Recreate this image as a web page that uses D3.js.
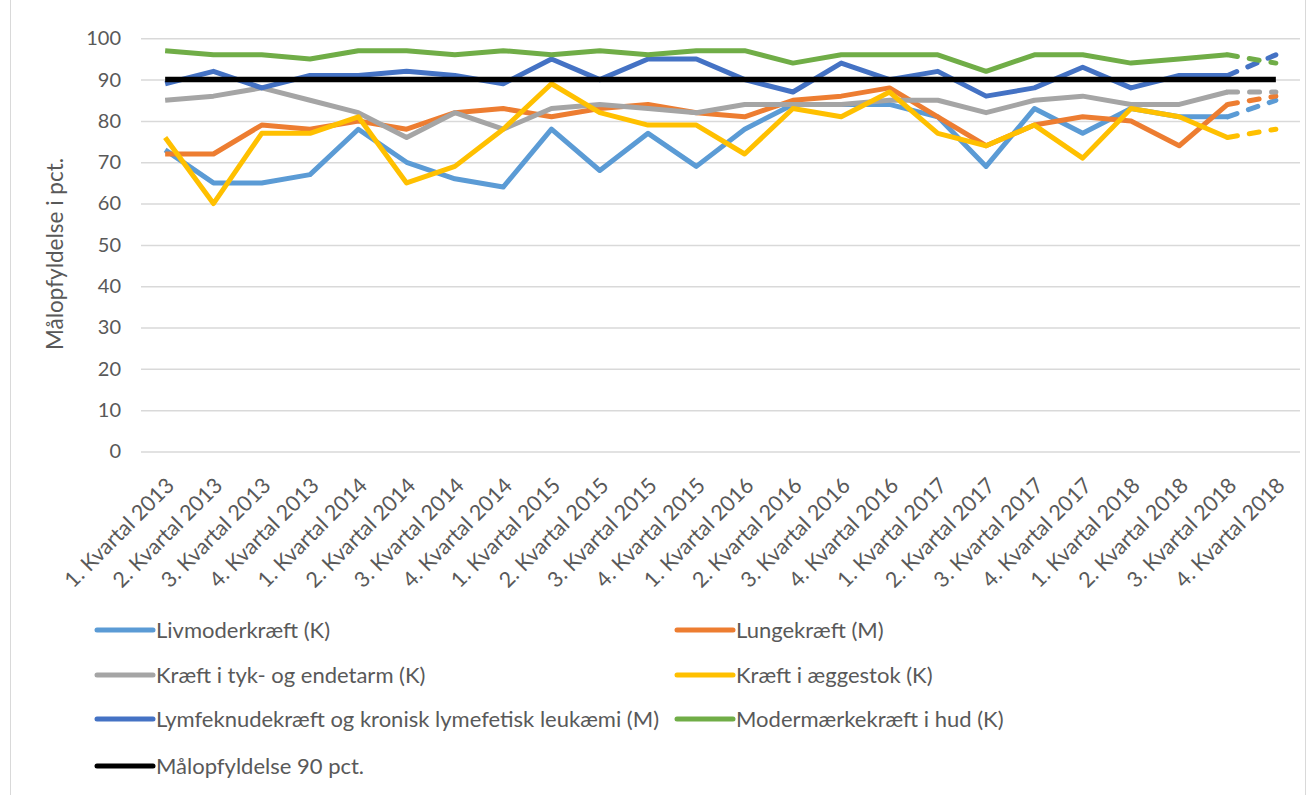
<!DOCTYPE html>
<html>
<head>
<meta charset="utf-8">
<script src="https://cdn.jsdelivr.net/npm/d3@7"></script>
<style>
  body { margin: 0; background: #fff; }
  text { font-family: Lato, "Liberation Sans", sans-serif; fill: #595959; }
</style>
</head>
<body>
<div id="chart"></div>
<script>
// categories on the x axis
var quarters = [
  "1. Kvartal 2013", "2. Kvartal 2013", "3. Kvartal 2013", "4. Kvartal 2013",
  "1. Kvartal 2014", "2. Kvartal 2014", "3. Kvartal 2014", "4. Kvartal 2014",
  "1. Kvartal 2015", "2. Kvartal 2015", "3. Kvartal 2015", "4. Kvartal 2015",
  "1. Kvartal 2016", "2. Kvartal 2016", "3. Kvartal 2016", "4. Kvartal 2016",
  "1. Kvartal 2017", "2. Kvartal 2017", "3. Kvartal 2017", "4. Kvartal 2017",
  "1. Kvartal 2018", "2. Kvartal 2018", "3. Kvartal 2018", "4. Kvartal 2018"
];

// series values (pct.)
var livmoder = [73, 65, 65, 67, 78, 70, 66, 64, 78, 68, 77, 69, 78, 84, 84, 84, 81, 69, 83, 77, 83, 81, 81, 85];
var lunge    = [72, 72, 79, 78, 80, 78, 82, 83, 81, 83, 84, 82, 81, 85, 86, 88, 81, 74, 79, 81, 80, 74, 84, 86];
var tyktarm  = [85, 86, 88, 85, 82, 76, 82, 78, 83, 84, 83, 82, 84, 84, 84, 85, 85, 82, 85, 86, 84, 84, 87, 87];
var aeggestok = [76, 60, 77, 77, 81, 65, 69, 78, 89, 82, 79, 79, 72, 83, 81, 87, 77, 74, 79, 71, 83, 81, 76, 78];
var lymfe    = [89, 92, 88, 91, 91, 92, 91, 89, 95, 90, 95, 95, 90, 87, 94, 90, 92, 86, 88, 93, 88, 91, 91, 96];
var modermaerke = [97, 96, 96, 95, 97, 97, 96, 97, 96, 97, 96, 97, 97, 94, 96, 96, 96, 92, 96, 96, 94, 95, 96, 94];
var maal     = [90, 90, 90, 90, 90, 90, 90, 90, 90, 90, 90, 90, 90, 90, 90, 90, 90, 90, 90, 90, 90, 90, 90, 90];

var yTicks = [0, 10, 20, 30, 40, 50, 60, 70, 80, 90, 100];

var series = [
  { name: "Livmoderkræft (K)", values: livmoder, color: "#5b9bd5", dashLast: true },
  { name: "Lungekræft (M)", values: lunge, color: "#ed7d31", dashLast: true },
  { name: "Kræft i tyk- og endetarm (K)", values: tyktarm, color: "#a5a5a5", dashLast: true },
  { name: "Kræft i æggestok (K)", values: aeggestok, color: "#ffc000", dashLast: true },
  { name: "Lymfeknudekræft og kronisk lymefetisk leukæmi (M)", values: lymfe, color: "#4472c4", dashLast: true },
  { name: "Modermærkekræft i hud (K)", values: modermaerke, color: "#70ad47", dashLast: true },
  { name: "Målopfyldelse 90 pct.", values: maal, color: "#000000", dashLast: false }
];

var width = 1311, height = 795;

var svg = d3.select("#chart")
  .append("svg")
  .attr("width", width)
  .attr("height", height);

// chart frame
svg.append("rect")
  .attr("x", 10.5)
  .attr("y", -1)
  .attr("width", 1295)
  .attr("height", height + 2)
  .attr("fill", "none")
  .attr("stroke", "#d9d9d9")
  .attr("stroke-width", 1);

var x = d3.scaleBand()
  .domain(quarters)
  .range([141, 1300]);

var y = d3.scaleLinear()
  .domain([0, 100])
  .range([451.5, 38.3]);

var cx = function(i) { return x(quarters[i]) + x.bandwidth() / 2; };

// gridlines + y labels
var yAxis = svg.append("g")
  .attr("transform", "translate(141,0)")
  .call(d3.axisLeft(y).tickValues(yTicks).tickSize(-(1300 - 141)).tickPadding(20));
yAxis.select(".domain").remove();
yAxis.selectAll(".tick line")
  .attr("stroke", "#d9d9d9")
  .attr("stroke-width", 1.5);
yAxis.selectAll(".tick text")
  .style("font-family", "Lato, sans-serif")
  .style("font-size", "20px")
  .attr("fill", "#595959");

// x labels
var xAxis = svg.append("g")
  .attr("transform", "translate(0,451.5)")
  .call(d3.axisBottom(x).tickSize(0).tickPadding(0));
xAxis.select(".domain").remove();
xAxis.selectAll(".tick text")
  .style("font-family", "Lato, sans-serif")
  .style("font-size", "21.5px")
  .attr("fill", "#595959")
  .attr("text-anchor", "end")
  .attr("dy", "0.35em")
  .attr("transform", "translate(5,30) rotate(-45)");

// y axis title
svg.append("text")
  .attr("transform", "translate(63,254) rotate(-90)")
  .style("text-anchor", "middle")
  .style("font-size", "22.5px")
  .text("Målopfyldelse i pct.");

var line = d3.line()
  .x(function(d) { return cx(d.i); })
  .y(function(d) { return y(d.v); });

series.forEach(function(s) {
  var pts = s.values.map(function(v, i) { return { i: i, v: v }; });
  var n = pts.length;
  var solid = s.dashLast ? pts.slice(0, n - 1) : pts;
  var w = s.dashLast ? 5 : 5.5;
  var g = svg.append("g");
  g.append("path")
    .datum(solid)
    .attr("fill", "none")
    .attr("stroke", s.color)
    .attr("stroke-width", w)
    .attr("stroke-linejoin", "round")
    .attr("d", line);
  if (s.dashLast) {
    g.append("path")
      .datum(pts.slice(n - 2))
      .attr("fill", "none")
      .attr("stroke", s.color)
      .attr("stroke-width", w)
      .attr("stroke-linecap", "round")
      .attr("stroke-dasharray", "10 12")
      .attr("d", line);
  }
});

// legend
var legendPos = [
  [97, 630], [677, 630],
  [97, 675], [677, 675],
  [97, 719], [677, 719],
  [97, 766]
];
var legend = svg.append("g");
series.forEach(function(s, i) {
  var p = legendPos[i];
  legend.append("line")
    .attr("x1", p[0]).attr("x2", p[0] + 56)
    .attr("y1", p[1]).attr("y2", p[1])
    .attr("stroke", s.color)
    .attr("stroke-width", 5)
    .attr("stroke-linecap", "round");
  legend.append("text")
    .attr("x", p[0] + 59)
    .attr("y", p[1])
    .attr("dy", "0.35em")
    .style("font-size", "22px")
    .text(s.name);
});
</script>
</body>
</html>
